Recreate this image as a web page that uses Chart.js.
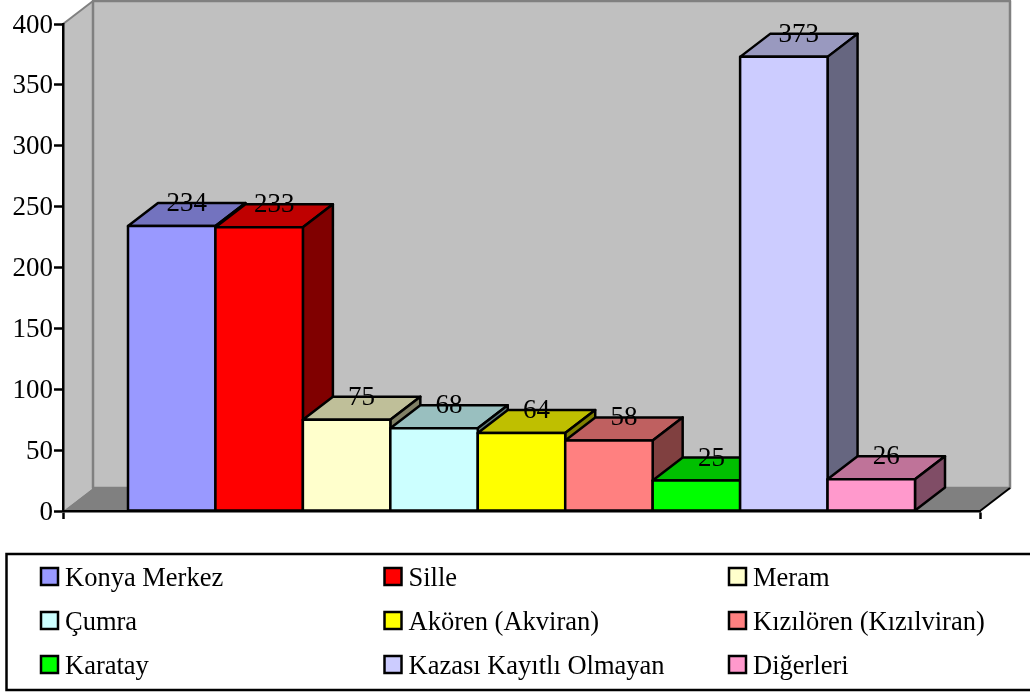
<!DOCTYPE html>
<html>
<head>
<meta charset="utf-8">
<style>html,body{margin:0;padding:0;background:#fff}canvas{display:block}</style>
<script src="https://cdn.jsdelivr.net/npm/chart.js@4/dist/chart.umd.min.js"></script>
</head>
<body>
<canvas id="c" width="1030" height="693"></canvas>
<script>
const categories = ['Kaza'];
const seriesNames = ['Konya Merkez','Sille','Meram','Çumra','Akören (Akviran)','Kızılören (Kızılviran)','Karatay','Kazası Kayıtlı Olmayan','Diğerleri'];
const seriesValues = [234,233,75,68,64,58,25,373,26];
const seriesColors = ['#9999FF','#FF0000','#FFFFCC','#CCFFFF','#FFFF00','#FF8080','#00FF00','#CCCCFF','#FF99CC'];
const yTicks = [0,50,100,150,200,250,300,350,400];

const FONT = '"Liberation Serif","Times New Roman",serif';
const DX = 30, DY = 23, LW = 2.5;

function shade(hex, f){
  const n = parseInt(hex.slice(1),16);
  const r = Math.round((n>>16&255)*f), g = Math.round((n>>8&255)*f), b = Math.round((n&255)*f);
  return 'rgb('+r+','+g+','+b+')';
}
function poly(ctx, pts, fill, stroke, lw){
  ctx.beginPath();
  pts.forEach((p,i)=> i ? ctx.lineTo(p[0],p[1]) : ctx.moveTo(p[0],p[1]));
  ctx.closePath();
  if(fill){ctx.fillStyle=fill;ctx.fill();}
  if(stroke){ctx.strokeStyle=stroke;ctx.lineWidth=lw;ctx.lineJoin='round';ctx.stroke();}
}

const walls = {
  id:'walls',
  beforeDraw(chart){
    const {ctx, chartArea:a} = chart;
    ctx.save();
    const l=a.left,r=a.right,t=a.top,b=a.bottom;
    poly(ctx,[[l,t],[l+DX,t-DY],[l+DX,b-DY],[l,b]],'#C0C0C0');
    poly(ctx,[[l+DX,t-DY],[r+DX,t-DY],[r+DX,b-DY],[l+DX,b-DY]],'#C0C0C0','#808080',2.5);
    poly(ctx,[[l,b],[l+DX,b-DY],[r+DX,b-DY],[r,b]],'#808080');
    ctx.strokeStyle='#808080';ctx.lineWidth=2;
    ctx.beginPath();ctx.moveTo(l,t);ctx.lineTo(l+DX,t-DY);ctx.stroke();
    ctx.strokeStyle='#000';ctx.lineWidth=2;
    ctx.beginPath();ctx.moveTo(r,b);ctx.lineTo(r+DX,b-DY);ctx.stroke();
    ctx.restore();
  }
};

/* Nudges the y-axis labels to sit where the reference has them. */
const labelNudge = {
  id:'labelNudge',
  afterUpdate(chart){
    chart.scales.y.getLabelItems(chart.chartArea).forEach(it=>{
      it.options.translation[0]+=1;
      it.options.translation[1]+=1.5;
    });
  }
};

/* Paints the bars left to right, each with its 3-D top and side, so that a bar
   overlaps the side of its left neighbour; then writes the value labels. */
const bar3d = {
  id:'bar3d',
  beforeDatasetsDraw(chart){
    const {ctx} = chart;
    seriesValues.forEach((v,i)=>{
      const meta = chart.getDatasetMeta(i);
      const el = meta.data[0];
      const c = seriesColors[i];
      const x0 = el.x-el.width/2, x1 = el.x+el.width/2, t = el.y, b = el.base;
      ctx.save();
      poly(ctx,[[x0,t],[x0+DX,t-DY],[x1+DX,t-DY],[x1,t]],shade(c,.75),'#000',LW);
      poly(ctx,[[x1,t],[x1+DX,t-DY],[x1+DX,b-DY],[x1,b]],shade(c,.5),'#000',LW);
      ctx.restore();
      meta.controller.draw();
      ctx.save();
      poly(ctx,[[x0,t],[x1,t],[x1,b],[x0,b]],null,'#000',LW);
      ctx.restore();
    });
    ctx.save();
    ctx.font = '27px '+FONT;
    ctx.fillStyle='#000';
    ctx.textAlign='center';
    ctx.textBaseline='alphabetic';
    seriesValues.forEach((v,i)=>{
      const el = chart.getDatasetMeta(i).data[0];
      ctx.fillText(String(v), el.x+DX/2, el.y-DY+8);
    });
    ctx.restore();
    return false;
  }
};

const boxLegend = {
  id:'boxLegend',
  afterDraw(chart){
    const {ctx} = chart;
    ctx.save();
    ctx.strokeStyle='#000';ctx.lineWidth=2.5;
    ctx.strokeRect(6.5,554,1040,136);
    ctx.font='26.5px '+FONT;
    ctx.textAlign='left';ctx.textBaseline='alphabetic';
    const cols=[41,384.5,729], rows=[568,612,656];
    seriesNames.forEach((n,i)=>{
      const x=cols[i%3], y=rows[Math.floor(i/3)];
      ctx.fillStyle=seriesColors[i];
      ctx.fillRect(x,y,17,17);
      ctx.strokeStyle='#000';ctx.lineWidth=2.5;
      ctx.strokeRect(x,y,17,17);
      ctx.fillStyle='#000';
      ctx.fillText(n,x+24,y+18);
    });
    ctx.restore();
  }
};

new Chart(document.getElementById('c'),{
  type:'bar',
  data:{
    labels:categories,
    datasets:seriesNames.map((name,i)=>({
      label:name,
      data:[seriesValues[i]],
      backgroundColor:seriesColors[i],
      borderWidth:0
    }))
  },
  options:{
    responsive:false,
    animation:false,
    layout:{padding:{left:0,right:50,top:24,bottom:174}},
    datasets:{bar:{categoryPercentage:787/917,barPercentage:1}},
    plugins:{legend:{display:false},tooltip:{enabled:false},title:{display:false}},
    scales:{
      x:{
        offset:true,
        grid:{offset:true,drawOnChartArea:false,drawTicks:true,tickLength:8,tickColor:'#000',tickWidth:2.5},
        border:{color:'#000',width:2.5},
        ticks:{display:false}
      },
      y:{
        min:0,max:400,
        afterBuildTicks(s){s.ticks=yTicks.map(v=>({value:v}));},
        grid:{drawOnChartArea:false,tickLength:9,tickColor:'#000',tickWidth:2.5},
        border:{color:'#000',width:2.5},
        ticks:{color:'#000',padding:2,font:{family:FONT,size:27}},
        afterFit(s){s.width=63;}
      }
    }
  },
  plugins:[walls,labelNudge,bar3d,boxLegend]
});
</script>
</body>
</html>
